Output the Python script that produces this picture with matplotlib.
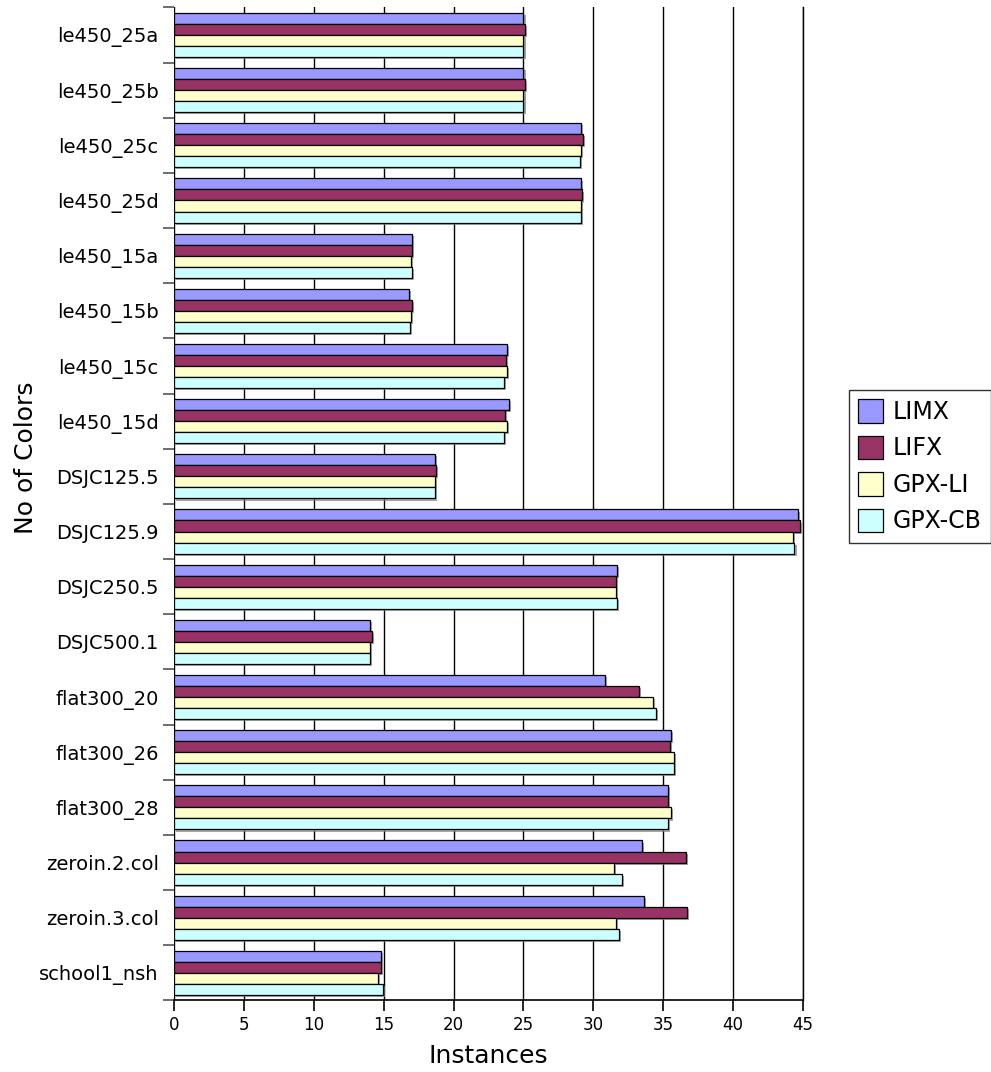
import numpy as np
import matplotlib
matplotlib.use("Agg")
from matplotlib import pyplot as plt
from matplotlib import patheffects as pe

instances = ["le450_25a", "le450_25b", "le450_25c", "le450_25d",
             "le450_15a", "le450_15b", "le450_15c", "le450_15d",
             "DSJC125.5", "DSJC125.9", "DSJC250.5", "DSJC500.1",
             "flat300_20", "flat300_26", "flat300_28",
             "zeroin.2.col", "zeroin.3.col", "school1_nsh"]

limx = [25.0, 25.0, 29.1, 29.14, 17.0, 16.8, 23.84, 23.98, 18.7, 44.67,
        31.7, 14.0, 30.86, 35.57, 35.36, 33.5, 33.62, 14.8]
lifx = [25.12, 25.12, 29.26, 29.21, 17.0, 17.0, 23.74, 23.67, 18.75, 44.76,
        31.6, 14.19, 33.24, 35.45, 35.36, 36.6, 36.67, 14.83]
gpx_li = [25.0, 25.0, 29.1, 29.14, 16.93, 16.93, 23.79, 23.81, 18.65, 44.26,
          31.62, 14.0, 34.29, 35.79, 35.57, 31.5, 31.62, 14.57]
gpx_cb = [25.0, 25.0, 29.03, 29.1, 17.0, 16.9, 23.6, 23.6, 18.7, 44.39,
          31.69, 14.0, 34.46, 35.79, 35.36, 32.05, 31.86, 14.96]

series = [("LIMX", limx, "#9999FF"), ("LIFX", lifx, "#993366"),
          ("GPX-LI", gpx_li, "#FFFFCC"), ("GPX-CB", gpx_cb, "#CCFFFF")]

fig = plt.figure(figsize=(9.91, 10.72), dpi=100)
ax = fig.add_axes([0.1756, 0.0667, 0.8103 - 0.1756, 0.9931 - 0.0667])

n = len(instances)
y = np.arange(n)
h = 0.8 / 4
shadow = [pe.SimplePatchShadow(offset=(1.5, -1.5), shadow_rgbFace="#808080", alpha=0.7), pe.Normal()]
for i, (name, vals, col) in enumerate(series):
    bars = ax.barh(y - 0.4 + h * (i + 0.5), vals, height=h, color=col,
                   edgecolor="black", linewidth=0.9, label=name, zorder=3)
    for b in bars:
        b.set_path_effects(shadow)

ax.set_xlim(0, 45)
ax.set_ylim(n - 0.5, -0.5)
ax.set_xticks(np.arange(0, 46, 5))
ax.set_yticks(y)
ax.set_yticklabels(instances, fontsize=14)
ax.set_yticks(np.arange(-0.5, n, 1), minor=True)
ax.tick_params(axis="y", which="major", length=0, pad=11)
ax.tick_params(axis="y", which="minor", length=8, color="#555555", width=1.2)
ax.tick_params(axis="x", labelsize=12, length=8, width=1.2)
ax.grid(axis="x", color="black", linewidth=1, zorder=0)
ax.axvline(45, color="black", linewidth=1, zorder=0, clip_on=False)
ax.set_axisbelow(True)
for s in ["top", "right"]:
    ax.spines[s].set_visible(False)
ax.spines["left"].set_visible(False)
ax.spines["bottom"].set_linewidth(1.2)

ax.set_xlabel("Instances", fontsize=18, labelpad=7)
ax.set_ylabel("No of Colors", fontsize=18)
ax.yaxis.set_label_coords(-0.217, 0.547)

leg = ax.legend(loc="center left", bbox_to_anchor=(1.073, 0.538), fontsize=17,
                frameon=True, fancybox=False, edgecolor="black",
                handlelength=1.05, handleheight=1.15, handletextpad=0.4,
                borderpad=0.4, labelspacing=0.5, borderaxespad=0)
leg.get_frame().set_linewidth(1)
for p in leg.get_patches():
    p.set_path_effects([pe.Normal()])

fig.savefig("out.png", dpi=100)
